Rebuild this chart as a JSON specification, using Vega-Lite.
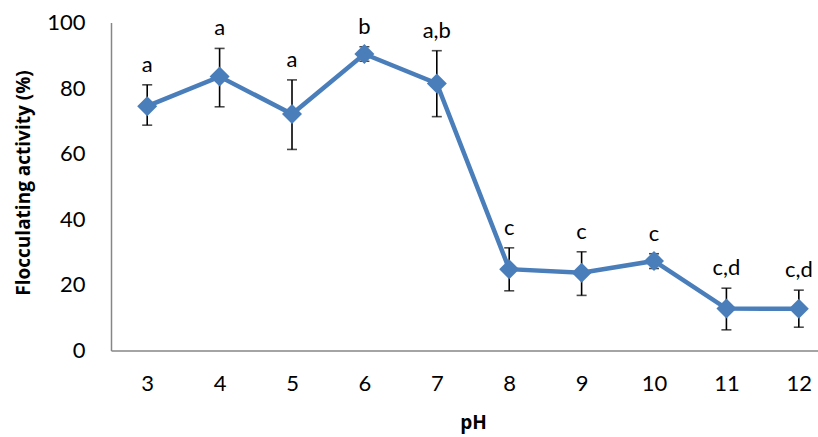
{
  "$schema": "https://vega.github.io/schema/vega-lite/v6.json",
  "autosize": "none",
  "width": 707,
  "height": 328,
  "padding": {"left": 111, "top": 22.5, "right": 0, "bottom": 86.5},
  "background": "white",
  "config": {
    "view": {"stroke": null},
    "font": "Lato",
    "axis": {"grid": false, "ticks": false, "domainColor": "#868686", "domainWidth": 1.5, "labelColor": "#000000", "labelFont": "Lato", "labelFontSize": 22, "titleFont": "Open Sans", "titleFontSize": 19, "titleFontWeight": "bold", "titleColor": "#000000"}
  },
  "data": {
    "values": [
      {"pH": 3, "mean": 74.5, "lo": 68.7, "hi": 81.0, "letter": "a"},
      {"pH": 4, "mean": 83.5, "lo": 74.3, "hi": 92.1, "letter": "a"},
      {"pH": 5, "mean": 72.1, "lo": 61.3, "hi": 82.5, "letter": "a"},
      {"pH": 6, "mean": 90.4, "lo": 88.2, "hi": 92.6, "letter": "b"},
      {"pH": 7, "mean": 81.4, "lo": 71.3, "hi": 91.4, "letter": "a,b"},
      {"pH": 8, "mean": 24.8, "lo": 18.2, "hi": 31.3, "letter": "c"},
      {"pH": 9, "mean": 23.7, "lo": 16.8, "hi": 30.1, "letter": "c"},
      {"pH": 10, "mean": 27.3, "lo": 25.0, "hi": 29.5, "letter": "c"},
      {"pH": 11, "mean": 12.8, "lo": 6.3, "hi": 19.0, "letter": "c,d"},
      {"pH": 12, "mean": 12.7, "lo": 7.1, "hi": 18.4, "letter": "c,d"}
    ]
  },
  "encoding": {
    "x": {
      "field": "pH", "type": "quantitative",
      "scale": {"domain": [2.5, 12.265], "nice": false, "zero": false},
      "axis": {"values": [3,4,5,6,7,8,9,10,11,12], "format": "d", "labelPadding": 23, "title": "pH", "titleX": 362, "titleY": 72, "titleBaseline": "middle"}
    }
  },
  "layer": [
    {
      "mark": {"type": "rule", "color": "#000000", "strokeWidth": 1.6},
      "encoding": {
        "y": {"field": "lo", "type": "quantitative", "scale": {"domain": [0, 100], "nice": false},
          "axis": {"values": [0,20,40,60,80,100], "labelPadding": 26, "title": "Flocculating activity (%)", "titleX": -88, "titleY": 160, "titleAngle": -90, "titleBaseline": "middle", "titleAlign": "center"}},
        "y2": {"field": "hi"}
      }
    },
    {
      "mark": {"type": "tick", "color": "#000000", "orient": "horizontal", "size": 10, "thickness": 1.6},
      "encoding": {"y": {"field": "lo", "type": "quantitative"}}
    },
    {
      "mark": {"type": "tick", "color": "#000000", "orient": "horizontal", "size": 10, "thickness": 1.6},
      "encoding": {"y": {"field": "hi", "type": "quantitative"}}
    },
    {
      "mark": {"type": "line", "color": "#4A7EBB", "strokeWidth": 4.5},
      "encoding": {"y": {"field": "mean", "type": "quantitative"}}
    },
    {
      "mark": {"type": "point", "shape": "diamond", "filled": true, "color": "#4A7EBB", "opacity": 1, "size": 400},
      "encoding": {"y": {"field": "mean", "type": "quantitative"}}
    },
    {
      "mark": {"type": "text", "font": "Lato", "fontSize": 22, "color": "#000000", "baseline": "middle", "dy": -20},
      "encoding": {"y": {"field": "hi", "type": "quantitative"}, "text": {"field": "letter"}}
    }
  ]
}
